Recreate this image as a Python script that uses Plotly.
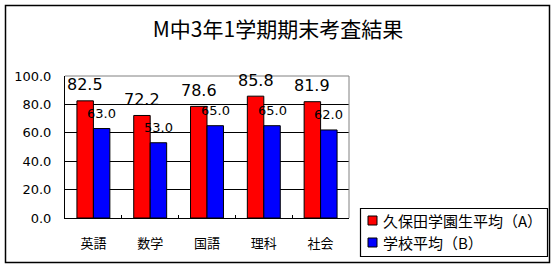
import plotly.graph_objects as go

categories = ["英語", "数学", "国語", "理科", "社会"]
kubota_avg = [82.5, 72.2, 78.6, 85.8, 81.9]
school_avg = [63.0, 53.0, 65.0, 65.0, 62.0]
series_names = ["久保田学園生平均（A）", "学校平均（B）"]
series_colors = ["#ff0000", "#0000ff"]
y_ticks = [0, 20, 40, 60, 80, 100]

W, H = 556, 269
L, R, T, B = 65, 349, 76, 218  # plot area in px
pw, ph = R - L, B - T

def px_to_paper_x(px):
    return (px - L) / pw

def px_to_paper_y(py):
    return (B - py) / ph

fig = go.Figure()
for vals, name, col in zip([kubota_avg, school_avg], series_names, series_colors):
    fig.add_trace(go.Bar(x=categories, y=vals, name=name,
                         marker=dict(color=col, line=dict(color="black", width=1))))

gap = 0.42
half = (1 - gap) / 4
annotations = []
for i, v in enumerate(kubota_avg):
    annotations.append(dict(x=i - half, y=v, xref="x", yref="y", text=f"{v:.1f}",
                            showarrow=False, yanchor="middle", yshift=16,
                            font=dict(family="DejaVu Sans", size=16, color="black")))
for i, v in enumerate(school_avg):
    annotations.append(dict(x=i + half, y=v, xref="x", yref="y", text=f"{v:.1f}",
                            showarrow=False, yanchor="middle", yshift=15,
                            font=dict(family="DejaVu Sans", size=13, color="black")))

shapes = [
    # outer chart border
    dict(type="rect", xref="paper", yref="paper",
         x0=px_to_paper_x(5.5), x1=px_to_paper_x(549.5),
         y0=px_to_paper_y(262.5), y1=px_to_paper_y(5.5),
         line=dict(color="black", width=1.5), layer="below"),
    # plot area border top/right gray
    dict(type="line", xref="paper", yref="paper", x0=0, x1=1, y0=1, y1=1,
         line=dict(color="#808080", width=1)),
    dict(type="line", xref="paper", yref="paper", x0=1, x1=1, y0=0, y1=1,
         line=dict(color="#808080", width=1)),
    # legend box
    dict(type="rect", xref="paper", yref="paper",
         x0=px_to_paper_x(360.5), x1=px_to_paper_x(547.5),
         y0=px_to_paper_y(256.5), y1=px_to_paper_y(208.5),
         line=dict(color="black", width=1.2), fillcolor="white"),
]

legend_rows = [220.5, 242.5]
for name, col, cy in zip(series_names, series_colors, legend_rows):
    shapes.append(dict(type="rect", xref="paper", yref="paper",
                       x0=px_to_paper_x(368), x1=px_to_paper_x(377),
                       y0=px_to_paper_y(cy + 4.5), y1=px_to_paper_y(cy - 4.5),
                       line=dict(color="black", width=1), fillcolor=col))
    annotations.append(dict(x=px_to_paper_x(381), y=px_to_paper_y(cy), xref="paper", yref="paper",
                            text=name, showarrow=False, xanchor="left", yanchor="middle",
                            font=dict(family="Noto Sans CJK JP", size=15, color="black")))

fig.update_layout(
    width=W, height=H,
    margin=dict(l=L, r=W - R, t=T, b=H - B, pad=0),
    paper_bgcolor="white", plot_bgcolor="white",
    barmode="group", bargap=gap, bargroupgap=0,
    title=dict(text="M中3年1学期期末考査結果", x=0.5, xanchor="center",
               y=1 - 29.5 / H, yanchor="middle", yref="container",
               font=dict(family="Noto Sans CJK JP", size=21, color="black")),
    xaxis=dict(showline=True, linecolor="black", linewidth=1,
               ticks="inside", tickson="boundaries", ticklen=3, tickcolor="black",
               ticklabelstandoff=13,
               tickfont=dict(family="Noto Sans CJK JP", size=13, color="black"),
               showgrid=False),
    yaxis=dict(range=[0, 100], tickvals=y_ticks, tickformat=".1f",
               showline=True, linecolor="black", linewidth=1,
               showgrid=True, gridcolor="black", gridwidth=1,
               ticks="", ticklabelstandoff=10,
               tickfont=dict(family="DejaVu Sans", size=13, color="black"),
               zeroline=False),
    annotations=annotations,
    shapes=shapes,
    showlegend=False,
)

fig.write_html("out.html")
